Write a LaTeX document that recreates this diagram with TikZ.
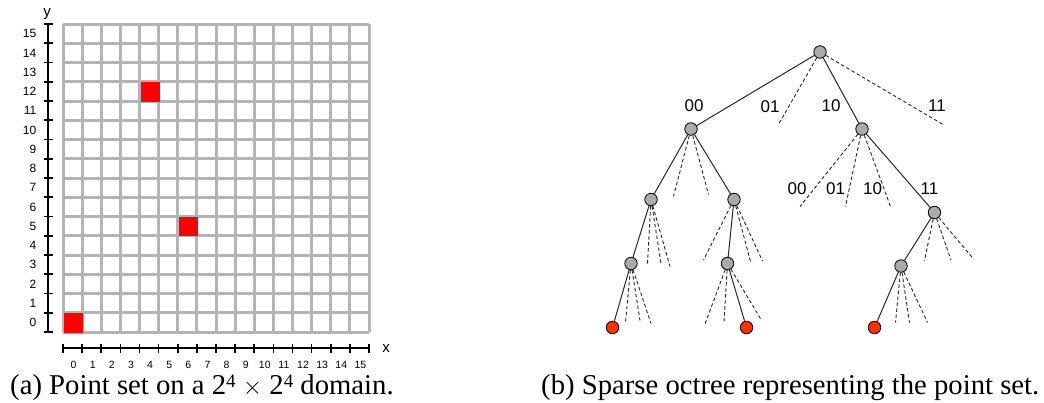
\documentclass[tikz,border=0pt]{standalone}
\usepackage{fontspec}
\setmainfont{Liberation Serif}
\setsansfont{Liberation Sans}
\definecolor{gridgray}{HTML}{B4B4B4}
\definecolor{cellred}{HTML}{FF0000}
\definecolor{nodegray}{HTML}{AAAAAA}
\definecolor{leafred}{HTML}{FF3300}
% a low superscript so that the exponent stays close to the digit
\newcommand{\lowsup}[1]{\raisebox{0.26em}{\fontsize{19}{20}\selectfont #1}}
\tikzset{
  gridline/.style={draw=gridgray, line width=3pt},
  axisline/.style={draw=black, line width=1.6pt},
  ylab/.style={font=\sffamily\fontsize{12}{13}\selectfont, anchor=east, inner sep=0pt},
  xlab/.style={font=\sffamily\fontsize{10.5}{11}\selectfont, anchor=center, inner sep=0pt},
  axname/.style={font=\sffamily\fontsize{15}{16}\selectfont, inner sep=0pt},
  tnode/.style={circle, draw=black, fill=nodegray, minimum size=12.5pt, inner sep=0pt, line width=0.8pt},
  leafnode/.style={tnode, fill=leafred},
  solidedge/.style={draw=black!85, line width=1pt},
  dashedge/.style={draw=black!85, line width=0.9pt, dash pattern=on 3.5pt off 2.5pt},
  blabel/.style={font=\sffamily\fontsize{17}{18}\selectfont, inner sep=0pt},
  caption/.style={font=\fontsize{28.7}{31}\selectfont, inner sep=0pt, anchor=base west}
}
\begin{document}
\begin{tikzpicture}[x=1pt, y=-1pt]
\useasboundingbox (0,0) rectangle (1044,402);

% ---------- (a) the 16 x 16 domain ----------
\def\gx{63}\def\gy{24}\def\cw{19.125}\def\ch{19.25}
\fill[white] (\gx,\gy) rectangle ({\gx+16*\cw},{\gy+16*\ch});
\foreach \i in {0,...,16}{
  \draw[gridline] ({\gx+\i*\cw},\gy) -- ({\gx+\i*\cw},{\gy+16*\ch});
  \draw[gridline] (\gx,{\gy+\i*\ch}) -- ({\gx+16*\cw},{\gy+\i*\ch});
}
% occupied cells (column, row counted from the bottom)
\foreach \c/\r in {0/0, 4/12, 6/5}{
  \fill[cellred] ({\gx+\c*\cw+1.2},{\gy+(15-\r)*\ch+0.5}) rectangle ({\gx+(\c+1)*\cw+1.2},{\gy+(16-\r)*\ch+0.5});
}

% y axis
\draw[axisline] (48,{\gy+0.5}) -- (48,{\gy+16*\ch});
\foreach \i in {0,...,16}{
  \draw[axisline] (44,{\gy+\i*\ch}) -- (53,{\gy+\i*\ch});
}
\foreach \r in {0,...,15}{
  \node[ylab] (yl\r) at (36.5,{\gy+(15.5-\r)*\ch}) {\r};
}
\node[axname] (yname) at (47,14) {y};

% x axis
\draw[axisline] (\gx,348) -- ({\gx+16*\cw},348);
\foreach \i in {0,...,16}{
  \draw[axisline] ({\gx+\i*\cw},343.5) -- ({\gx+\i*\cw},352.5);
}
\foreach \c in {0,...,15}{
  \node[xlab] (xl\c) at ({\gx+(\c+0.5)*\cw+1},365) {\c};
}
\node[axname] (xname) at (386,349) {x};

\node[caption] (capa) at (10,394.5) {(a) Point set on a 2\lowsup{4} $\times$ 2\lowsup{4} domain.};

% ---------- (b) the sparse octree ----------
\node[tnode] (R) at (820,52) {};
\node[tnode] (A) at (691,129) {};
\node[tnode] (B) at (862,129) {};
\node[tnode] (A0) at (651,199.5) {};
\node[tnode] (A3) at (734,199.5) {};
\node[tnode] (B3) at (934.5,212.5) {};
\node[tnode] (A00) at (631,263.5) {};
\node[tnode] (A30) at (727.5,263.5) {};
\node[tnode] (B30) at (901,266) {};
\node[leafnode] (L1) at (612.5,327.5) {};
\node[leafnode] (L2) at (746.5,327.5) {};
\node[leafnode] (L3) at (874.5,327.5) {};

% ends of the empty branches
\coordinate (R1) at (779,123.5);
\coordinate (R3) at (943,124.5);
\coordinate (A1) at (673.5,196.5);
\coordinate (A2) at (708.5,194.5);
\coordinate (B0) at (800,206.5);
\coordinate (B1) at (845.5,206.5);
\coordinate (B2) at (890.5,206.5);
\coordinate (A01) at (647.5,263.5);
\coordinate (A02) at (661,263.5);
\coordinate (A03) at (670,266.5);
\coordinate (A31) at (703.5,260);
\coordinate (A32) at (750.5,261.5);
\coordinate (A33) at (762.5,261);
\coordinate (B31) at (924.5,260.5);
\coordinate (B32) at (951,260);
\coordinate (B33) at (973.5,259);
\coordinate (A001) at (625.5,322.5);
\coordinate (A002) at (640,320.5);
\coordinate (A003) at (651,323.5);
\coordinate (A300) at (705,324);
\coordinate (A301) at (724,321.5);
\coordinate (A303) at (761,319.5);
\coordinate (B301) at (895.5,322.5);
\coordinate (B302) at (909.5,322.5);
\coordinate (B303) at (927.5,322.5);

% occupied branches
\draw[solidedge] (R) -- (A);
\draw[solidedge] (R) -- (B);
\draw[solidedge] (A) -- (A0);
\draw[solidedge] (A) -- (A3);
\draw[solidedge] (B) -- (B3);
\draw[solidedge] (A0) -- (A00);
\draw[solidedge] (A3) -- (A30);
\draw[solidedge] (B3) -- (B30);
\draw[solidedge] (A00) -- (L1);
\draw[solidedge] (A30) -- (L2);
\draw[solidedge] (B30) -- (L3);

% empty branches
\foreach \p/\q in {R/R1, R/R3, A/A1, A/A2, B/B0, B/B1, B/B2,
                   A0/A01, A0/A02, A0/A03, A3/A31, A3/A32, A3/A33,
                   B3/B31, B3/B32, B3/B33, A00/A001, A00/A002, A00/A003,
                   A30/A300, A30/A301, A30/A303, B30/B301, B30/B302, B30/B303}{
  \draw[dashedge] (\p) -- (\q);
}

% branch codes
\node[blabel] (c00) at (694,106) {00};
\node[blabel] (c01) at (770,107) {01};
\node[blabel] (c10) at (831,106) {10};
\node[blabel] (c11) at (937,106) {11};
\node[blabel] (d00) at (797,189) {00};
\node[blabel] (d01) at (835.5,189) {01};
\node[blabel] (d10) at (872.5,189) {10};
\node[blabel] (d11) at (929.5,189) {11};

\node[caption] (capb) at (541,394.5) {(b) Sparse octree representing the point set.};
\end{tikzpicture}
\end{document}
